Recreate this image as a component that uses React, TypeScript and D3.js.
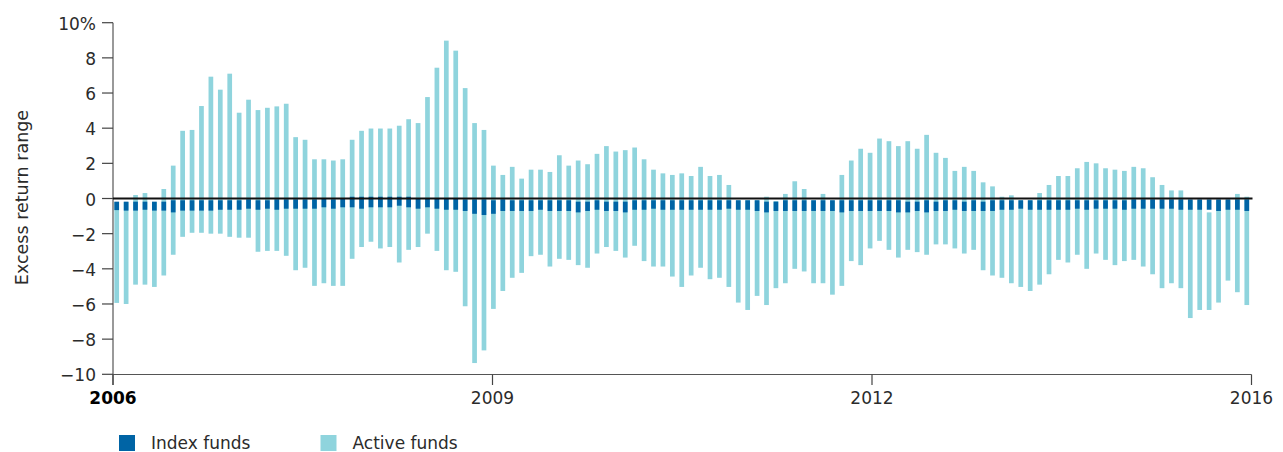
import React from "react";
import * as d3 from "d3";

// Monthly observations (121 bars), values in % excess return
const activeHigh = [
  -0.2, -0.2, 0.2, 0.31, -0.2, 0.54, 1.87, 3.85, 3.9, 5.26, 6.93, 6.19, 7.1, 4.88, 5.62,
  5.03, 5.16, 5.24, 5.39, 3.49, 3.34, 2.23, 2.23, 2.16, 2.23, 3.34, 3.85, 3.98, 3.98, 3.98,
  4.14, 4.51, 4.29, 5.77, 7.44, 8.98, 8.41, 6.28, 4.29, 3.9, 1.87, 1.34, 1.8, 1.13, 1.64,
  1.64, 1.51, 2.46, 1.87, 2.16, 1.95, 2.54, 2.98, 2.67, 2.75, 2.9, 2.23, 1.64, 1.43, 1.34,
  1.43, 1.28, 1.8, 1.28, 1.34, 0.77, -0.1, -0.1, -0.1, 0.1, -0.15, 0.26, 0.98, 0.54, -0.1,
  0.26, -0.1, 1.34, 2.16, 2.83, 2.6, 3.41, 3.26, 2.98, 3.26, 2.83, 3.62, 2.6, 2.31, 1.57,
  1.8, 1.57, 0.92, 0.69, 0.1, 0.18, -0.1, -0.1, 0.31, 0.77, 1.28, 1.28, 1.72, 2.08, 2.0,
  1.72, 1.64, 1.57, 1.8, 1.72, 1.21, 0.77, 0.46, 0.46, -0.1, -0.1, -0.79, -0.1, -0.1, 0.26,
  0.1,
];
const activeLow = [
  -5.94, -6.0, -4.9, -4.9, -5.03, -4.38, -3.2, -2.18, -1.95, -1.95, -2.0, -2.0, -2.18, -2.23, -2.23,
  -3.03, -2.98, -2.98, -3.26, -4.08, -3.94, -4.97, -4.82, -4.97, -4.97, -3.43, -2.76, -2.46, -2.84, -2.76,
  -3.64, -2.92, -2.76, -2.0, -2.98, -4.08, -4.17, -6.13, -9.36, -8.64, -6.28, -5.26, -4.51, -4.23, -3.28,
  -3.2, -3.87, -3.43, -3.49, -3.79, -3.94, -3.13, -2.76, -2.98, -3.36, -2.69, -3.56, -3.87, -3.87, -4.44,
  -5.03, -4.38, -3.94, -4.59, -4.51, -5.03, -5.92, -6.34, -5.54, -6.06, -5.1, -4.82, -4.0, -4.15, -4.82,
  -4.82, -5.47, -4.97, -3.56, -3.79, -2.84, -2.41, -2.92, -3.36, -2.92, -3.05, -3.2, -2.61, -2.61, -2.84,
  -3.13, -2.92, -4.08, -4.38, -4.51, -4.82, -5.03, -5.26, -4.9, -4.31, -3.49, -3.64, -3.2, -4.0, -3.13,
  -3.49, -3.79, -3.56, -3.49, -3.87, -4.31, -5.1, -4.82, -5.1, -6.8, -6.34, -6.34, -5.92, -4.67, -5.33,
  -6.06,
];
const indexHigh = [
  -0.18, -0.18, -0.18, -0.18, -0.18, -0.18, -0.1, -0.1, -0.1, -0.1, -0.1, -0.1, -0.1, -0.1, -0.05,
  -0.1, -0.1, -0.05, -0.05, -0.05, -0.05, -0.05, 0.0, -0.05, 0.0, 0.1, 0.1, 0.1, 0.1, 0.1,
  0.1, 0.1, 0.0, 0.0, 0.0, 0.0, 0.0, -0.05, -0.05, -0.05, -0.1, -0.05, -0.1, -0.1, -0.1,
  -0.1, -0.1, -0.1, -0.1, -0.18, -0.18, -0.1, -0.18, -0.18, -0.18, -0.1, -0.1, -0.1, -0.1, -0.1,
  -0.1, -0.1, -0.1, -0.1, -0.1, -0.1, -0.1, -0.1, -0.1, -0.18, -0.18, -0.1, -0.1, -0.1, -0.1,
  -0.1, -0.1, -0.1, -0.1, -0.1, -0.1, -0.1, -0.1, -0.1, -0.18, -0.18, -0.1, -0.18, -0.1, -0.1,
  -0.18, -0.1, -0.18, -0.1, -0.1, -0.1, -0.1, -0.1, -0.1, -0.1, -0.1, -0.1, -0.1, -0.1, -0.1,
  -0.1, -0.1, -0.1, -0.05, -0.05, -0.05, -0.05, -0.05, -0.05, -0.05, -0.05, -0.05, -0.05, -0.05, -0.05,
  -0.05,
];
const indexLow = [
  -0.66, -0.69, -0.69, -0.64, -0.69, -0.69, -0.79, -0.69, -0.69, -0.69, -0.69, -0.64, -0.64, -0.64, -0.58,
  -0.64, -0.58, -0.64, -0.58, -0.58, -0.58, -0.58, -0.5, -0.58, -0.5, -0.5, -0.58, -0.5, -0.5, -0.5,
  -0.41, -0.5, -0.58, -0.5, -0.58, -0.64, -0.64, -0.71, -0.87, -0.94, -0.87, -0.71, -0.71, -0.71, -0.71,
  -0.64, -0.71, -0.71, -0.71, -0.79, -0.71, -0.64, -0.71, -0.71, -0.79, -0.64, -0.64, -0.58, -0.64, -0.64,
  -0.64, -0.64, -0.64, -0.64, -0.64, -0.58, -0.64, -0.64, -0.71, -0.79, -0.71, -0.71, -0.71, -0.71, -0.71,
  -0.71, -0.71, -0.79, -0.71, -0.71, -0.71, -0.71, -0.71, -0.79, -0.79, -0.71, -0.79, -0.71, -0.71, -0.64,
  -0.71, -0.71, -0.71, -0.71, -0.64, -0.64, -0.58, -0.64, -0.64, -0.64, -0.64, -0.64, -0.58, -0.64, -0.58,
  -0.58, -0.58, -0.64, -0.58, -0.58, -0.58, -0.58, -0.58, -0.64, -0.64, -0.64, -0.64, -0.71, -0.64, -0.64,
  -0.71,
];

const yTicks = [10, 8, 6, 4, 2, 0, -2, -4, -6, -8, -10];
const xTickLabels = ["2006", "2009", "2012", "2016"];
const seriesNames = ["Index funds", "Active funds"];

const W = 1283;
const H = 452;
const DARK = "#0064a5";
const LIGHT = "#8fd4dd";
const FONT = "'DejaVu Sans', 'Liberation Sans', sans-serif";
const TEXT = "#2b2b2b";

export default function App() {
  const n = activeHigh.length;
  const x = d3.scaleBand<number>().domain(d3.range(n)).range([112, 1251.5]).padding(0);
  const y = d3.scaleLinear().domain([-10, 10]).range([374.3, 22.7]);
  const xTick = d3.scaleLinear().domain([0, xTickLabels.length - 1]).range([113, 1251.5]);
  const bw = 4.7;
  const cx = (i: number) => (x(i) as number) + x.bandwidth() / 2;
  const fmt = (v: number) => (v === 10 ? "10%" : v < 0 ? "\u2212" + Math.abs(v) : String(v));

  return (
    <svg
      width={W}
      height={H}
      style={{ position: "absolute", left: 0, top: 0, display: "block", background: "#fff" }}
      fontFamily={FONT}
    >
      {/* active bars */}
      {d3.range(n).map((i) => (
        <rect
          key={"a" + i}
          x={cx(i) - bw / 2}
          width={bw}
          y={y(activeHigh[i])}
          height={y(activeLow[i]) - y(activeHigh[i])}
          fill={LIGHT}
        />
      ))}
      {/* index bars */}
      {d3.range(n).map((i) => (
        <rect
          key={"i" + i}
          x={cx(i) - bw / 2}
          width={bw}
          y={y(indexHigh[i])}
          height={y(indexLow[i]) - y(indexHigh[i])}
          fill={DARK}
        />
      ))}

      {/* y axis */}
      <line x1={113} x2={113} y1={y(10)} y2={385} stroke="#555" strokeWidth={1.2} />
      {yTicks.map((t) => (
        <g key={"yt" + t}>
          <line x1={102} x2={113} y1={y(t)} y2={y(t)} stroke="#444" strokeWidth={1.2} />
          <text x={96} y={y(t) + 7} textAnchor="end" fontSize={17} fill={TEXT}>
            {fmt(t)}
          </text>
        </g>
      ))}
      <text
        transform={`translate(27.5, 197.5) rotate(-90)`}
        textAnchor="middle"
        fontSize={17.5}
        fill={TEXT}
      >
        Excess return range
      </text>

      {/* x axis */}
      <line x1={113} x2={1251.5} y1={374.5} y2={374.5} stroke="#555" strokeWidth={1.2} />
      {xTickLabels.map((lab, k) => (
        <g key={"xt" + lab}>
          <line x1={xTick(k)} x2={xTick(k)} y1={374.5} y2={385} stroke="#444" strokeWidth={1.2} />
          <text
            x={xTick(k)}
            y={404}
            textAnchor="middle"
            fontSize={17}
            fill={k === 0 ? "#000" : TEXT}
            fontWeight={k === 0 ? "bold" : "normal"}
          >
            {lab}
          </text>
        </g>
      ))}

      {/* zero line */}
      <line x1={113} x2={1252.5} y1={y(0)} y2={y(0)} stroke="#111" strokeWidth={2} />

      {/* legend */}
      {seriesNames.map((name, k) => (
        <g key={"lg" + name} transform={`translate(${119 + k * 201.5}, 435)`}>
          <rect x={0} y={0} width={16} height={16} fill={k === 0 ? DARK : LIGHT} />
          <text x={32} y={13.5} fontSize={17} fill={TEXT}>
            {name}
          </text>
        </g>
      ))}
    </svg>
  );
}
